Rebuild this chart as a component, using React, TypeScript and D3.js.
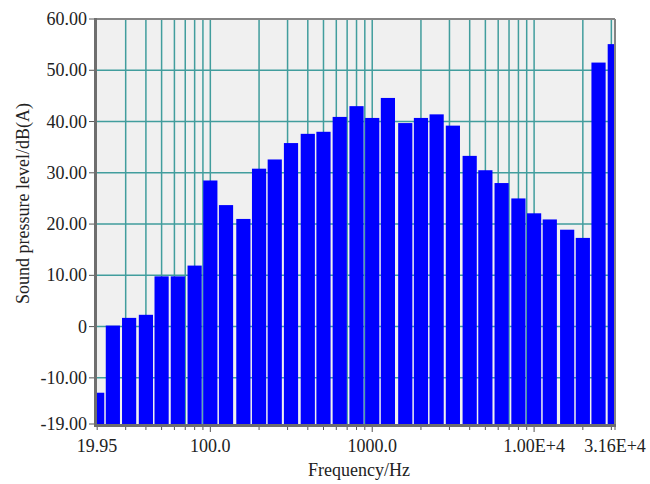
import React from 'react';
import * as d3 from 'd3';

// third-octave band centres (Hz) and measured levels dB(A)
const bands = [20, 25, 31.5, 40, 50, 63, 80, 100, 125, 160, 200, 250, 315, 400, 500, 630, 800,
  1000, 1250, 1600, 2000, 2500, 3150, 4000, 5000, 6300, 8000, 10000, 12500, 16000, 20000, 25000, 31500];
const levels = [-12.9, 0.2, 1.7, 2.3, 9.8, 9.8, 11.9, 28.5, 23.7, 21.0, 30.8, 32.6, 35.8, 37.6, 38.0, 40.9, 43.0,
  40.7, 44.6, 39.7, 40.7, 41.4, 39.2, 33.3, 30.5, 28.0, 25.0, 22.1, 20.9, 18.9, 17.3, 51.5, 55.1];

const yTicks = [60, 50, 40, 30, 20, 10, 0, -10, -19];
const gridY = [50, 40, 30, 20, 10, 0, -10];
const xTickVals = [19.95, 100, 1000, 10000, 31600];
const xTickLabels = ['19.95', '100.0', '1000.0', '1.00E+4', '3.16E+4'];

const W = 650, H = 484;
const left = 97, right = 615, top = 19, bottom = 424;
const font = '"Liberation Serif", "Times New Roman", serif';
const grid = '#419d9d';

export default function App() {
  const x = d3.scaleLog().domain([19.95, 31600]).range([left, right]);
  const y = d3.scaleLinear().domain([-19, 60]).range([bottom, top]);

  // log grid lines: 2..9 x each decade, plus decades
  const gridX: number[] = [];
  [10, 100, 1000, 10000].forEach(d => {
    for (let k = 1; k <= 9; k++) {
      const f = d * k;
      if (f > 20 && f < 31600) gridX.push(f);
    }
  });

  const half = Math.pow(10, 0.05);

  return (
    <svg width={W} height={H} style={{ display: 'block', position: 'absolute', left: 0, top: 0 }}>
      <defs>
        <clipPath id="plot">
          <rect x={left} y={top} width={right - left} height={bottom - top} />
        </clipPath>
      </defs>
      <rect x={0} y={0} width={W} height={H} fill="#fff" />
      <rect x={left} y={top} width={right - left} height={bottom - top} fill="#f0f0f0" />

      {gridX.map(f => (
        <line key={'gx' + f} x1={x(f)} x2={x(f)} y1={top} y2={bottom} stroke={grid} strokeWidth={1.5} />
      ))}
      {gridY.map(v => (
        <line key={'gy' + v} x1={left} x2={right} y1={y(v)} y2={y(v)} stroke={grid} strokeWidth={1.5} />
      ))}

      <g clipPath="url(#plot)">
        {bands.map((f, i) => {
          const x0 = x(f / half) + 1;
          const x1 = x(f * half) - 1;
          const v = levels[i];
          return (
            <rect key={'b' + f} x={x0} width={x1 - x0} y={y(v)} height={bottom - y(v)} fill="#0000ff" />
          );
        })}
      </g>

      {/* frame */}
      <line x1={left} x2={right} y1={top} y2={top} stroke="#858585" strokeWidth={2} />
      <line x1={right} x2={right} y1={top} y2={bottom} stroke="#858585" strokeWidth={2} />
      <line x1={left - 1.5} x2={left - 1.5} y1={top - 1} y2={bottom + 1.5} stroke="#6e6e6e" strokeWidth={3} />
      <line x1={left - 3} x2={right + 1} y1={bottom + 1.5} y2={bottom + 1.5} stroke="#6e6e6e" strokeWidth={3} />

      {/* y ticks */}
      {yTicks.map(v => (
        <g key={'yt' + v}>
          <line x1={left - 8} x2={left - 3} y1={y(v)} y2={y(v)} stroke="#555" strokeWidth={1} />
          <text x={left - 10} y={y(v)} dy="0.34em" textAnchor="end" fontFamily={font} fontSize={18} fill="#222">
            {v === 0 ? '0' : v.toFixed(2)}
          </text>
        </g>
      ))}

      {/* x ticks */}
      {[20, ...gridX, 31600].map(f => {
        const major = f === 100 || f === 1000 || f === 10000;
        return (
          <line key={'xt' + f} x1={x(f)} x2={x(f)} y1={bottom + 3} y2={bottom + (major ? 8 : 6)} stroke="#555" strokeWidth={1} />
        );
      })}
      {xTickVals.map((f, i) => (
        <text key={'xl' + f} x={x(f)} y={bottom + 28} textAnchor="middle" fontFamily={font} fontSize={18} fill="#222">
          {xTickLabels[i]}
        </text>
      ))}

      <text x={(left + right) / 2 + 3} y={476} textAnchor="middle" fontFamily={font} fontSize={18} fill="#222">
        Frequency/Hz
      </text>
      <text transform={`translate(29,${(top + bottom) / 2 - 18}) rotate(-90)`} textAnchor="middle" fontFamily={font} fontSize={18} fill="#222">
        Sound pressure level/dB(A)
      </text>
    </svg>
  );
}
